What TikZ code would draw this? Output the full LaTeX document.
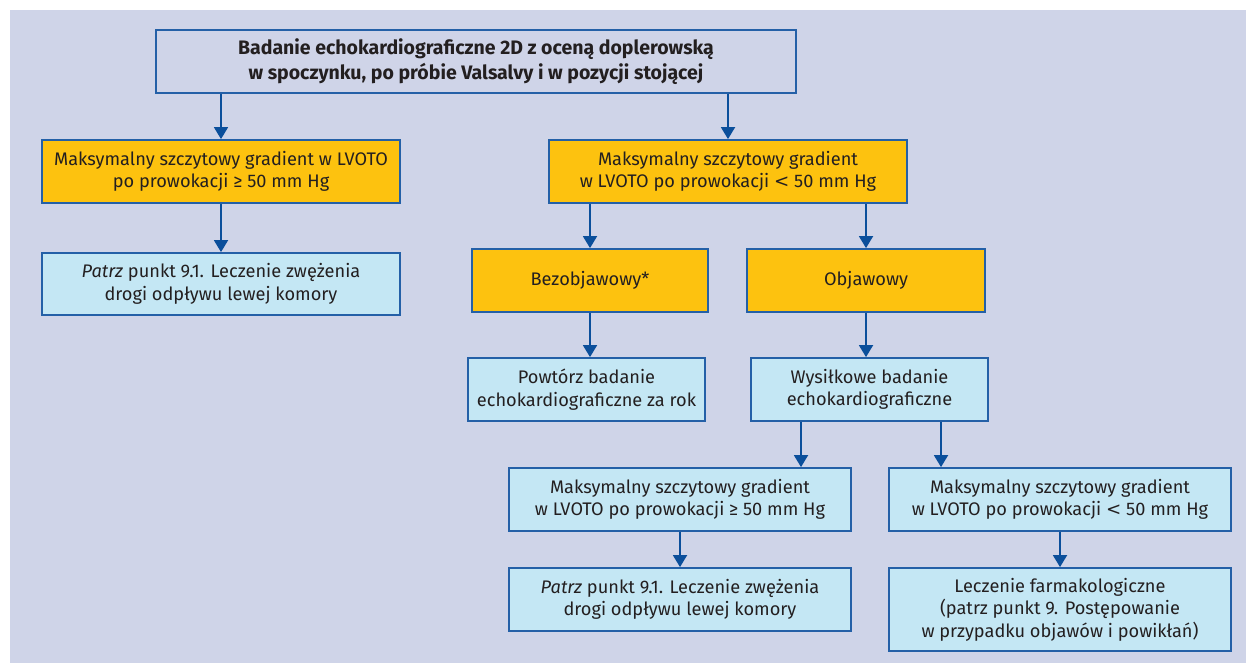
\documentclass[tikz,border=0pt]{standalone}
\usepackage{fontspec}
\setmainfont{Fira Sans}
\usetikzlibrary{arrows.meta}
\definecolor{bgc}{HTML}{CFD4E8}
\definecolor{ylw}{HTML}{FDC20F}
\definecolor{lbl}{HTML}{C4E7F4}
\definecolor{brd}{HTML}{2460A7}
\definecolor{arr}{HTML}{0B4F9B}
\definecolor{txt}{HTML}{231F20}
\tikzset{
  box/.style={draw=brd, line width=1.8pt, rectangle, inner sep=0pt, align=center, text=txt, font=\fontsize{18.2}{22.5}\selectfont},
  ybox/.style={box, fill=ylw},
  bbox/.style={box, fill=lbl},
  tbox/.style={box, fill=bgc, font=\fontsize{19.5}{25}\selectfont\bfseries},
  conn/.style={draw=arr, line width=1.8pt, -{Triangle[width=14pt,length=12pt]}}
}
\begin{document}
\begin{tikzpicture}[x=1pt,y=-1pt]
\useasboundingbox (0,0) rectangle (1246,663);
\fill[bgc] (10,10) rectangle (1246,663);
\node[tbox, minimum width=640pt, minimum height=63pt] (top) at (476,61.5) {Badanie echokardiograficzne 2D z oceną doplerowską\\w spoczynku, po próbie Valsalvy i w pozycji stojącej};
\node[ybox, minimum width=358pt, minimum height=63pt] (L1) at (221,171.5) {Maksymalny szczytowy gradient w LVOTO\\po prowokacji ≥ 50 mm Hg};
\node[bbox, minimum width=358pt, minimum height=62pt] (L2) at (221,284) {\textit{Patrz} punkt 9.1. Leczenie zwężenia\\drogi odpływu lewej komory};
\node[ybox, minimum width=358pt, minimum height=63pt] (R1) at (728,171.5) {Maksymalny szczytowy gradient\\w LVOTO po prowokacji {\fontspec{DejaVu Sans}<} 50 mm Hg};
\node[ybox, minimum width=236pt, minimum height=63pt] (bez) at (590,280.5) {Bezobjawowy*};
\node[ybox, minimum width=238pt, minimum height=63pt] (obj) at (866,280.5) {Objawowy};
\node[bbox, minimum width=237pt, minimum height=63pt] (pow) at (586.5,389.5) {Powtórz badanie\\echokardiograficzne za rok};
\node[bbox, minimum width=237pt, minimum height=63pt] (wys) at (869.5,389.5) {Wysiłkowe badanie\\echokardiograficzne};
\node[bbox, minimum width=342pt, minimum height=63pt] (LL) at (680,499.5) {Maksymalny szczytowy gradient\\w LVOTO po prowokacji ≥ 50 mm Hg};
\node[bbox, minimum width=342pt, minimum height=63pt] (LR) at (1060,499.5) {Maksymalny szczytowy gradient\\w LVOTO po prowokacji {\fontspec{DejaVu Sans}<} 50 mm Hg};
\node[bbox, minimum width=342pt, minimum height=63pt] (pat) at (680,599.5) {\textit{Patrz} punkt 9.1. Leczenie zwężenia\\drogi odpływu lewej komory};
\node[bbox, minimum width=342pt, minimum height=83pt] (lec) at (1060,609.5) {Leczenie farmakologiczne\\(patrz punkt 9. Postępowanie\\w przypadku objawów i powikłań)};
\coordinate (w1) at ([xshift=-68.5pt]wys.south);
\coordinate (w2) at ([xshift=71.5pt]wys.south);
\draw[conn] (top.south -| L1.north) -- (L1.north);
\draw[conn] (top.south -| R1.north) -- (R1.north);
\draw[conn] (L1.south) -- (L2.north);
\draw[conn] (R1.south -| bez.north) -- (bez.north);
\draw[conn] (R1.south -| obj.north) -- (obj.north);
\draw[conn] (bez.south) -- (bez.south |- pow.north);
\draw[conn] (obj.south) -- (obj.south |- wys.north);
\draw[conn] (w1) -- (w1 |- LL.north);
\draw[conn] (w2) -- (w2 |- LR.north);
\draw[conn] (LL.south) -- (pat.north);
\draw[conn] (LR.south) -- (lec.north);
\end{tikzpicture}
\end{document}
